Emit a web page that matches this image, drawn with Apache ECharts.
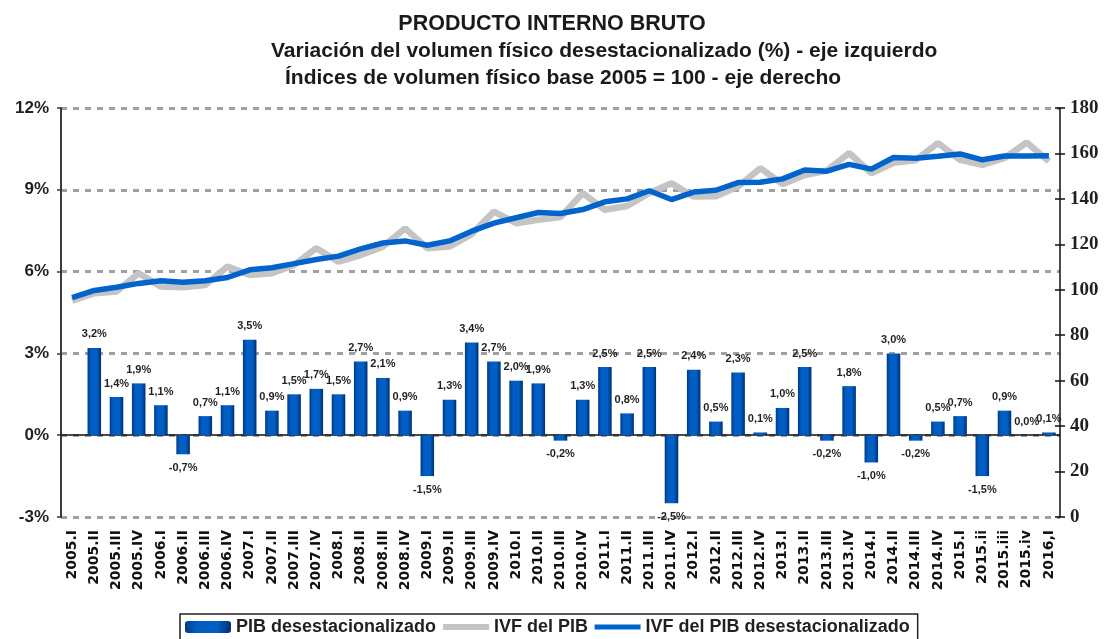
<!DOCTYPE html>
<html>
<head>
<meta charset="utf-8">
<script src="https://cdn.jsdelivr.net/npm/echarts@6/dist/echarts.min.js"></script>
<style>
  html, body { margin: 0; padding: 0; background: #fff; }
  #chart { width: 1104px; height: 639px; }
</style>
</head>
<body>
<div id="chart"></div>
<script>
var categories = ['2005.I', '2005.II', '2005.III', '2005.IV',
    '2006.I', '2006.II', '2006.III', '2006.IV',
    '2007.I', '2007.II', '2007.III', '2007.IV',
    '2008.I', '2008.II', '2008.III', '2008.IV',
    '2009.I', '2009.II', '2009.III', '2009.IV',
    '2010.I', '2010.II', '2010.III', '2010.IV',
    '2011.I', '2011.II', '2011.III', '2011.IV',
    '2012.I', '2012.II', '2012.III', '2012.IV',
    '2013.I', '2013.II', '2013.III', '2013.IV',
    '2014.I', '2014.II', '2014.III', '2014.IV',
    '2015.I', '2015.ii', '2015.iii', '2015.iv', '2016,I'];

// variacion % desestacionalizada (eje izquierdo)
var pibVar = [null, 3.2, 1.4, 1.9,
    1.1, -0.7, 0.7, 1.1,
    3.5, 0.9, 1.5, 1.7,
    1.5, 2.7, 2.1, 0.9,
    -1.5, 1.3, 3.4, 2.7,
    2.0, 1.9, -0.2, 1.3,
    2.5, 0.8, 2.5, -2.5,
    2.4, 0.5, 2.3, 0.1,
    1.0, 2.5, -0.2, 1.8,
    -1.0, 3.0, -0.2, 0.5,
    0.7, -1.5, 0.9, 0.0, 0.1];

// IVF del PIB, base 2005 = 100 (eje derecho)
var ivf = [95.2, 98.5, 99.2, 107.3,
    101.4, 101.1, 102.1, 110.2,
    106.5, 107.3, 110.9, 118.3,
    112.4, 115.3, 119.0, 127.0,
    118.3, 119.0, 124.5, 134.4,
    129.3, 130.8, 132.0, 142.5,
    135.2, 136.9, 142.6, 146.9,
    141.0, 141.2, 145.4, 153.5,
    146.5, 150.5, 152.5, 160.2,
    151.3, 155.9, 157.0, 164.6,
    157.2, 155.0, 158.0, 164.8, 156.5];

// IVF del PIB desestacionalizado (eje derecho)
var ivfDes = [96.5, 99.7, 101.1, 102.8,
    104.0, 103.3, 104.0, 105.4,
    108.8, 109.7, 111.5, 113.3,
    114.8, 118.0, 120.6, 121.5,
    119.6, 121.5, 125.8, 129.3,
    131.7, 134.0, 133.6, 135.3,
    138.7, 140.0, 143.6, 139.7,
    143.0, 143.8, 147.2, 147.3,
    148.8, 152.7, 152.2, 155.2,
    153.1, 158.2, 157.9, 158.8,
    159.8, 157.2, 158.9, 158.9, 159.0];

var leftTicks = { min: -3, max: 12, interval: 3 };
var rightTicks = { min: 0, max: 180, interval: 20 };

var inkColor = '#231f20';
var greyLine = '#c4c4c4';
var blueLine = '#0064cc';

var barFill = new echarts.graphic.LinearGradient(0, 0, 1, 0, [
    { offset: 0, color: '#003a86' },
    { offset: 0.25, color: '#005dc2' },
    { offset: 0.7, color: '#005ec6' },
    { offset: 1, color: '#002f70' }
]);

var barData = pibVar.map(function (v) {
    if (v === null) return '-';
    return { value: v, label: { position: v < 0 ? 'bottom' : 'top' } };
});

var chart = echarts.init(document.getElementById('chart'), null, { renderer: 'canvas' });

var titleFont = { fontFamily: 'Liberation Sans', fontWeight: 'bold', color: '#1a1a1a' };

var option = {
    backgroundColor: '#ffffff',
    animation: false,
    title: [
        { text: 'PRODUCTO INTERNO BRUTO', left: 'center', top: 8,
          textStyle: Object.assign({ fontSize: 21.5 }, titleFont) },
        { text: 'Variación del volumen físico desestacionalizado (%) - eje izquierdo', left: 266, top: 36,
          textStyle: Object.assign({ fontSize: 21 }, titleFont) },
        { text: 'Índices de volumen físico base 2005 = 100 - eje derecho', left: 280, top: 63,
          textStyle: Object.assign({ fontSize: 21 }, titleFont) }
    ],
    grid: { left: 61, right: 44, top: 108, bottom: 122 },
    legend: {
        left: 180,
        top: 614,
        padding: [4, 8, 8, 5],
        itemGap: 4,
        itemWidth: 46,
        itemHeight: 12,
        borderColor: '#222',
        borderWidth: 1.5,
        textStyle: { fontFamily: 'Liberation Sans', fontWeight: 'bold', fontSize: 18, color: inkColor },
        data: [
            { name: 'PIB desestacionalizado' },
            { name: 'IVF del PIB', itemStyle: { opacity: 0 }, lineStyle: { width: 6, color: greyLine } },
            { name: 'IVF del PIB desestacionalizado', itemStyle: { opacity: 0 }, lineStyle: { width: 5, color: blueLine } }
        ]
    },
    xAxis: [
        {
            type: 'category',
            data: categories,
            position: 'bottom',
            axisLine: { show: false, onZero: false },
            axisTick: { show: false },
            axisLabel: {
                rotate: 90,
                interval: 0,
                margin: 13,
                fontFamily: 'DejaVu Sans',
                fontWeight: 'bold',
                fontSize: 14,
                color: '#111'
            }
        },
        {
            type: 'category',
            data: categories,
            position: 'bottom',
            axisLine: { onZero: true, onZeroAxisIndex: 0, lineStyle: { color: '#111', width: 1.5 } },
            axisTick: { inside: true, length: 5, lineStyle: { color: '#111', width: 1.2 } },
            axisLabel: { show: false }
        }
    ],
    yAxis: [
        {
            type: 'value',
            min: leftTicks.min,
            max: leftTicks.max,
            interval: leftTicks.interval,
            position: 'left',
            axisLine: { show: true, lineStyle: { color: '#3a3a3a', width: 2 } },
            axisTick: { show: true, length: 4, lineStyle: { color: '#3a3a3a', width: 1.5 } },
            splitLine: { show: true, lineStyle: { color: '#a0a0a0', width: 3, type: [6, 6] } },
            axisLabel: {
                margin: 12,
                fontFamily: 'Liberation Sans',
                fontWeight: 'bold',
                fontSize: 17,
                color: inkColor,
                formatter: function (v) { return v + '%'; }
            }
        },
        {
            type: 'value',
            min: rightTicks.min,
            max: rightTicks.max,
            interval: rightTicks.interval,
            position: 'right',
            axisLine: { show: true, lineStyle: { color: '#111', width: 1.5 } },
            axisTick: { show: true, length: 5, lineStyle: { color: '#111', width: 1.5 } },
            splitLine: { show: false },
            axisLabel: {
                margin: 10,
                fontFamily: 'Liberation Serif',
                fontWeight: 'bold',
                fontSize: 19,
                color: inkColor
            }
        },
        {
            // inner half of the right-axis ticks
            type: 'value',
            min: rightTicks.min,
            max: rightTicks.max,
            interval: rightTicks.interval,
            position: 'right',
            axisLine: { show: false },
            axisTick: { show: true, inside: true, length: 5, lineStyle: { color: '#111', width: 1.5 } },
            splitLine: { show: false },
            axisLabel: { show: false }
        }
    ],
    series: [
        {
            name: 'PIB desestacionalizado',
            type: 'bar',
            xAxisIndex: 0,
            yAxisIndex: 0,
            barWidth: '61%',
            data: barData,
            itemStyle: { color: barFill },
            label: {
                show: true,
                distance: 8,
                fontFamily: 'Liberation Sans',
                fontWeight: 'bold',
                fontSize: 11,
                color: inkColor,
                formatter: function (p) {
                    return Number(p.value).toFixed(1).replace('.', ',') + '%';
                }
            }
        },
        {
            name: 'IVF del PIB',
            type: 'line',
            xAxisIndex: 0,
            yAxisIndex: 1,
            symbol: 'none',
            data: ivf,
            lineStyle: { color: greyLine, width: 6.5 },
            itemStyle: { color: greyLine }
        },
        {
            name: 'IVF del PIB desestacionalizado',
            type: 'line',
            xAxisIndex: 0,
            yAxisIndex: 1,
            symbol: 'none',
            data: ivfDes,
            lineStyle: { color: blueLine, width: 5.5 },
            itemStyle: { color: blueLine }
        }
    ]
};

chart.setOption(option);
</script>
</body>
</html>
